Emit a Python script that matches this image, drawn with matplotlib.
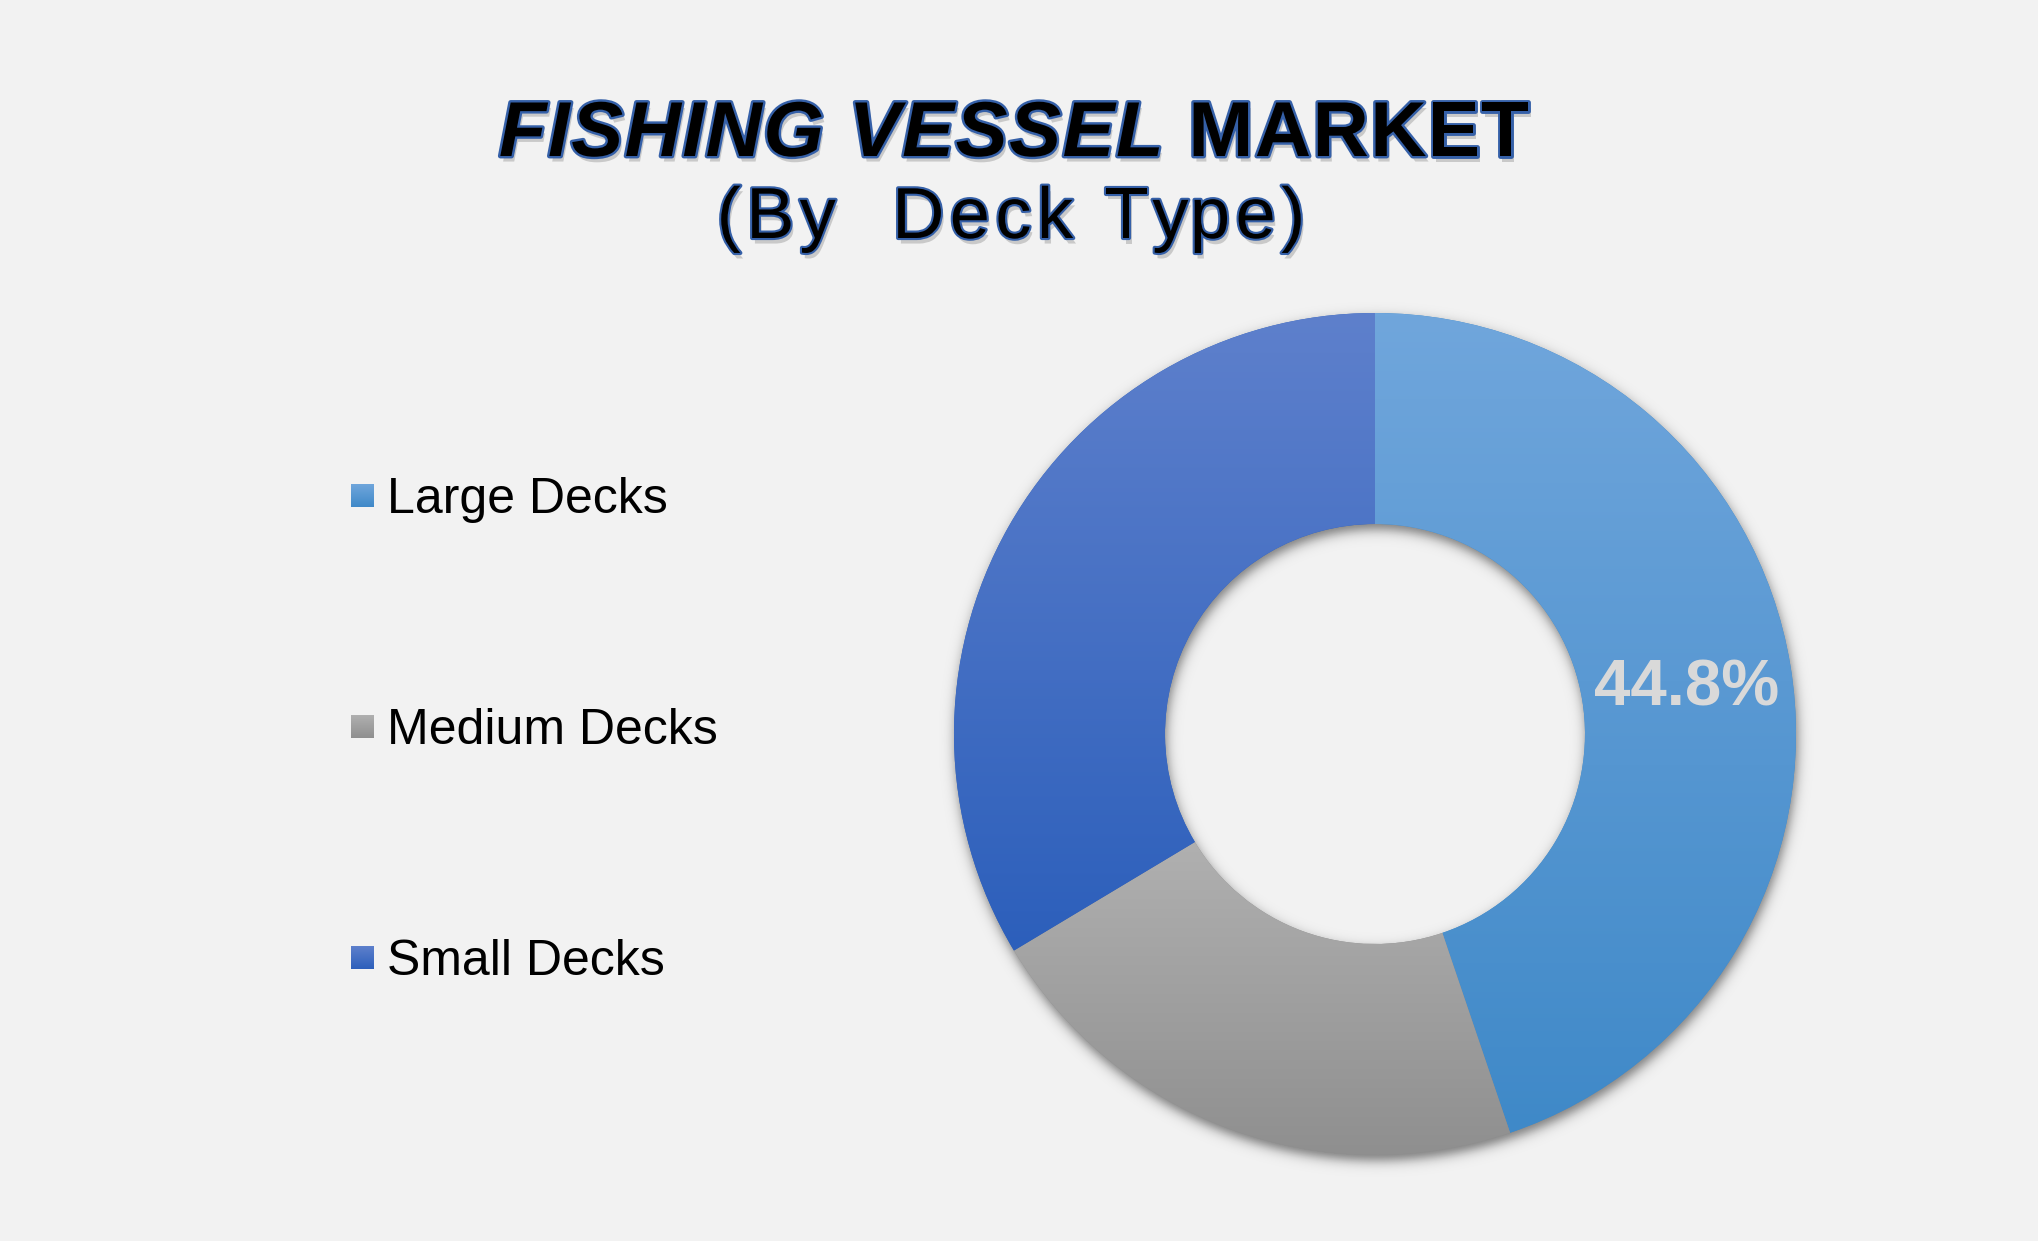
import numpy as np
import matplotlib.pyplot as plt
from matplotlib import patheffects as pe
from matplotlib.colors import LinearSegmentedColormap
from matplotlib.font_manager import FontProperties

# data
categories = ['Large Decks', 'Medium Decks', 'Small Decks']
shares = [44.8, 21.6, 33.6]

# (top, bottom) colours of each slice's vertical gradient
grad_colors = [('#70a6dc', '#3f89c8'),
               ('#b0b0b0', '#8f8f8f'),
               ('#5e80cc', '#2c5fbb')]

W, H = 2038, 1241
BG = '#f2f2f2'
FONT = 'Liberation Sans'
plt.rcParams['font.family'] = [FONT, 'DejaVu Sans']

fig = plt.figure(figsize=(W / 100, H / 100), dpi=100, facecolor=BG)
ax = fig.add_axes([0, 0, 1, 1])
ax.set_facecolor(BG)

cx, cy, R, r_in = 1375, 507, 421, 210
ramp = np.linspace(0, 1, 256).reshape(-1, 1)

# soft drop shadow under the ring
pad = 40
xs = np.arange(cx - R - pad, cx + R + pad)
ys = np.arange(cy - R - pad, cy + R + pad)
X, Y = np.meshgrid(xs, ys)
rr = np.hypot(X - (cx + 1), Y - (cy - 6))
d = np.maximum(rr - R, r_in - rr)
shadow = np.zeros(X.shape + (4,))
shadow[..., 3] = 0.5 / (1 + np.exp(d / 3.5))
ax.imshow(shadow, extent=(xs[0], xs[-1] + 1, ys[0], ys[-1] + 1),
          origin='lower', aspect='auto', zorder=1)

wedges, texts, autotexts = ax.pie(
    shares, center=(cx, cy), radius=R, startangle=90, counterclock=False,
    wedgeprops=dict(width=R - r_in, linewidth=0),
    colors=[c[1] for c in grad_colors],
    autopct=lambda p: f'{p:.1f}%' if p > 40 else '',
    pctdistance=(R + r_in) / (2 * R),
    textprops=dict(fontsize=47, fontweight='bold', color='#d9d9d9'))

for w, (top, bot) in zip(wedges, grad_colors):
    w.set_zorder(2)
    ext = w.get_path().get_extents()
    cmap = LinearSegmentedColormap.from_list('g', [bot, top])
    im = ax.imshow(ramp, cmap=cmap, extent=(ext.x0, ext.x1, ext.y0, ext.y1),
                   origin='lower', aspect='auto', zorder=3)
    im.set_clip_path(w)
for t in autotexts:
    px, py = t.get_position()
    t.set_position((px, py - 6))
    t.set_zorder(5)

# legend on the left
for i, (name, (top, bot)) in enumerate(zip(categories, grad_colors)):
    yc = 745 - i * 231
    cmap = LinearSegmentedColormap.from_list('g', [bot, top])
    ax.imshow(ramp, cmap=cmap, extent=(351, 374, yc - 11.5, yc + 11.5),
              origin='lower', aspect='auto', zorder=3)
    ax.text(387, yc - 17, name, fontsize=36, va='baseline', color='black')

# title: outlined, shadowed, letter-spaced
renderer = fig.canvas.get_renderer()


def title_fx(lw):
    return [pe.SimplePatchShadow(offset=(2, -4), shadow_rgbFace='#8c8c8c', alpha=0.4),
            pe.Stroke(linewidth=lw, foreground='#3560a8'), pe.Normal()]


def text_w(s, fp):
    return renderer.get_text_width_height_descent(s, fp, ismath=False)[0]


def spaced_line(segments, xc, y, track, size, lw):
    items = []
    offset = 0.0
    for s, props in segments:
        fp = FontProperties(family=FONT, size=size, **props)
        bar = text_w('|', fp)
        for i, ch in enumerate(s):
            x = offset + text_w(s[:i] + '|', fp) - bar + i * track
            items.append((x, ch, fp))
        offset += text_w(s + '|', fp) - bar + len(s) * track
    total = offset - track
    x0 = xc - total / 2
    for x, ch, fp in items:
        ax.text(x0 + x, y, ch, fontproperties=fp, va='baseline',
                color='black', path_effects=title_fx(lw))


spaced_line([('FISHING VESSEL', dict(weight='bold', style='italic')),
             (' MARKET', dict(weight='bold'))], 1014, 1085, 1.6, 56, 3.5)
spaced_line([('(By  Deck Type)', dict(weight='normal'))], 1011, 1003, 5.4, 52, 3.0)

ax.set_xlim(0, W)
ax.set_ylim(0, H)
ax.axis('off')

fig.savefig('out.png', dpi=100, facecolor=BG)
